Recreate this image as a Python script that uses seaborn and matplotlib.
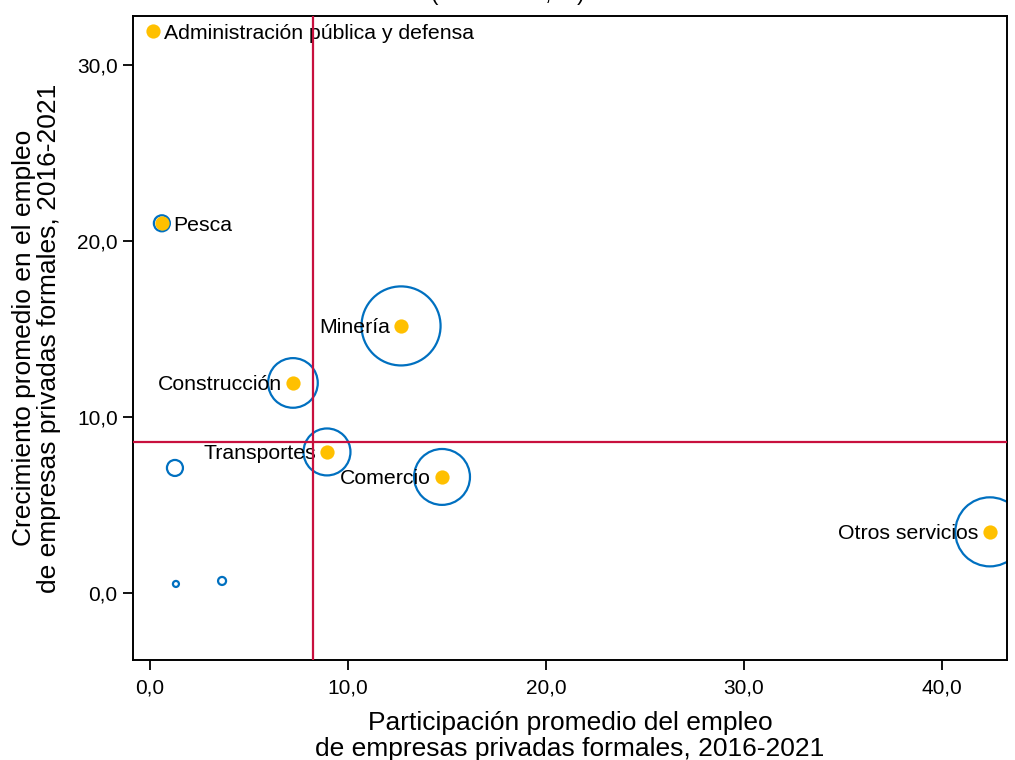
import numpy as np
import pandas as pd
import matplotlib
matplotlib.use("Agg")
import matplotlib.pyplot as plt
import seaborn as sns
from matplotlib.ticker import FuncFormatter

# Sectores con etiqueta (punto amarillo + burbuja azul)
sectores = ["Administración pública y defensa", "Pesca", "Minería", "Construcción",
            "Transportes", "Comercio", "Otros servicios"]
participacion = [0.15, 0.6, 12.68, 7.22, 8.94, 14.75, 42.42]
crecimiento = [31.9, 21.0, 15.17, 11.93, 8.01, 6.59, 3.47]
tamano = [0.0, 0.64, 15.6, 6.15, 5.5, 7.8, 11.9]
lado = ["der", "der", "izq", "izq", "izq", "izq", "izq"]

# Sectores sin etiqueta (solo burbuja)
part_otros = [1.26, 1.31, 3.64]
crec_otros = [7.1, 0.51, 0.68]
tam_otros = [0.64, 0.09, 0.16]

# Promedios (líneas de referencia)
prom_x = 8.23
prom_y = 8.58

azul = "#0070C0"
amarillo = "#FFC000"
rojo = "#C8103E"

df = pd.DataFrame({"x": participacion + part_otros,
                   "y": crecimiento + crec_otros,
                   "tam": tamano + tam_otros})
df_lab = pd.DataFrame({"x": participacion, "y": crecimiento, "sector": sectores, "lado": lado})

sns.set_style("white")
plt.rcParams["font.family"] = ["Liberation Sans", "DejaVu Sans"]
plt.rcParams["text.color"] = "black"
plt.rcParams["axes.labelcolor"] = "black"
plt.rcParams["xtick.color"] = "black"
plt.rcParams["ytick.color"] = "black"

fig = plt.figure(figsize=(10.15, 7.6), dpi=100)
ax = fig.add_axes([0.131, 0.1316, 0.861, 0.8474])

sns.scatterplot(data=df, x="x", y="y", size="tam", sizes=(0, 3240), size_norm=(0, 15.6),
                facecolor="none", edgecolor=azul, linewidth=1.6, legend=False, ax=ax, zorder=2)
sns.scatterplot(data=df_lab, x="x", y="y", color=amarillo, s=105, linewidth=0,
                legend=False, ax=ax, zorder=3)

for _, r in df_lab.iterrows():
    if r["lado"] == "der":
        ax.annotate(r["sector"], (r["x"], r["y"]), xytext=(8, 0), textcoords="offset points",
                    ha="left", va="center_baseline", fontsize=15.3, zorder=4)
    else:
        ax.annotate(r["sector"], (r["x"], r["y"]), xytext=(-8, 0), textcoords="offset points",
                    ha="right", va="center_baseline", fontsize=15.3, zorder=4)

ax.axvline(prom_x, color=rojo, lw=1.6, zorder=5)
ax.axhline(prom_y, color=rojo, lw=1.6, zorder=5)

ax.set_xlim(-0.86, 43.28)
ax.set_ylim(-3.81, 32.78)
ax.set_xticks([0, 10, 20, 30, 40])
ax.set_yticks([0, 10, 20, 30])
fmt = FuncFormatter(lambda v, p: f"{v:.1f}".replace(".", ","))
ax.xaxis.set_major_formatter(fmt)
ax.yaxis.set_major_formatter(fmt)
ax.tick_params(axis="both", direction="out", length=7, width=1.3, color="black",
               bottom=True, left=True, labelsize=15, pad=4)
ax.tick_params(axis="x", pad=6)
for s in ax.spines.values():
    s.set_color("black")
    s.set_linewidth(1.4)

ax.set_xlabel("Participación promedio del empleo\nde empresas privadas formales, 2016-2021",
              fontsize=19, linespacing=1.12)
ax.set_ylabel("Crecimiento promedio en el empleo\nde empresas privadas formales, 2016-2021",
              fontsize=19, linespacing=1.05)
ax.xaxis.set_label_coords(0.5, -0.079)
ax.yaxis.set_label_coords(-0.082, 0.5)

# título recortado en el borde superior (solo se ve el borde inferior)
fig.text(0.5, 1.0, "(2016-2021, %)", ha="center", va="baseline", fontsize=16)

fig.savefig("out.png", dpi=100)
